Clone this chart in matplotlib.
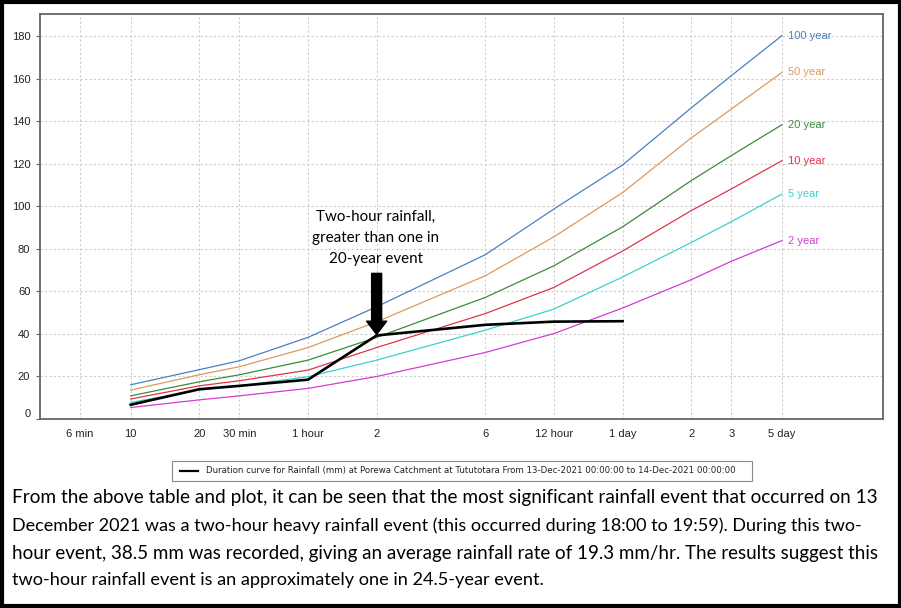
import matplotlib
matplotlib.use('Agg')
import matplotlib.pyplot as plt
from matplotlib.patches import Rectangle
from matplotlib.lines import Line2D
from matplotlib.ticker import NullLocator, FixedLocator, FixedFormatter
import matplotlib.transforms as mtransforms

W, H = 901, 608

# ---------------- data ----------------
durations = [10, 20, 30, 60, 120, 360, 720, 1440, 2880, 4320, 7200]  # minutes
depth_100 = [16.1, 23.2, 27.4, 38.4, 52.8, 77.3, 98.8, 119.5, 146.3, 161.5, 180.3]
depth_50 = [13.6, 20.8, 24.6, 33.6, 45.7, 67.4, 85.7, 106.5, 132.2, 145.8, 163.0]
depth_20 = [10.9, 17.5, 20.8, 27.7, 38.4, 57.2, 72.1, 90.4, 112.1, 123.9, 138.4]
depth_10 = [9.4, 15.6, 18.0, 23.0, 33.6, 49.6, 61.9, 79.0, 98.0, 108.2, 121.5]
depth_5 = [7.8, 13.6, 15.6, 19.9, 27.7, 41.8, 51.7, 66.8, 83.0, 92.8, 105.8]
depth_2 = [5.4, 9.0, 10.9, 14.4, 20.0, 31.3, 40.2, 52.2, 65.5, 74.2, 83.9]
series_labels = ['100 year', '50 year', '20 year', '10 year', '5 year', '2 year']
series_colors = ['#4a80c0', '#dc9a5c', '#3a8c3a', '#e0344c', '#3cd0d0', '#d43cd4']

event_durations = [10, 20, 30, 60, 120, 360, 720, 1440]
event_depth = [6.7, 14.0, 15.6, 18.5, 39.3, 44.3, 45.8, 46.0]

x_tick_pos = [6, 10, 20, 30, 60, 120, 360, 720, 1440, 2880, 4320, 7200]
x_tick_labels = ['6 min', '10', '20', '30 min', '1 hour', '2', '6', '12 hour',
                 '1 day', '2', '3', '5 day']
y_ticks = [0, 20, 40, 60, 80, 100, 120, 140, 160, 180]

legend_text = ('Duration curve for Rainfall (mm) at Porewa Catchment at Tututotara '
               'From 13-Dec-2021 00:00:00 to 14-Dec-2021 00:00:00')
annot_lines = ['Two-hour rainfall,', 'greater than one in', '20-year event']
para_lines = [
    'From the above table and plot, it can be seen that the most significant rainfall event that occurred on 13',
    'December 2021 was a two-hour heavy rainfall event (this occurred during 18:00 to 19:59). During this two-',
    'hour event, 38.5 mm was recorded, giving an average rainfall rate of 19.3 mm/hr. The results suggest this',
    'two-hour rainfall event is an approximately one in 24.5-year event.',
]


def fx(px):
    return px / W


def fy(py):
    return 1 - py / H


fig = plt.figure(figsize=(W / 100, H / 100), dpi=100)
fig.patch.set_facecolor('white')

ax = fig.add_axes([fx(40), fy(419), (883 - 40) / W, (419 - 14) / H])
ax.set_xscale('log')
ax.set_xlim(4.0, 20000)
ax.set_ylim(0, 190.5)

tick_family = ['Liberation Sans', 'DejaVu Sans']

ax.xaxis.set_major_locator(FixedLocator(x_tick_pos))
ax.xaxis.set_major_formatter(FixedFormatter(x_tick_labels))
ax.xaxis.set_minor_locator(NullLocator())
ax.set_yticks(y_ticks)
ax.set_yticklabels([str(v) for v in y_ticks])
for lab in ax.get_xticklabels() + ax.get_yticklabels():
    lab.set_fontfamily(tick_family)
    lab.set_fontsize(8)
    lab.set_color('#222222')
ax.tick_params(axis='x', length=0, pad=7)
ax.tick_params(axis='y', length=3, pad=4, color='#666666')

# shift the "0" label up a little, as in the source software
zero_lab = ax.get_yticklabels()[0]
zero_lab.set_transform(zero_lab.get_transform() +
                       mtransforms.ScaledTranslation(0, 6 / 100, fig.dpi_scale_trans))

ax.grid(True, which='major', color='#cccccc', linestyle=(0, (2, 2)), linewidth=0.8)
ax.set_axisbelow(True)
for s in ax.spines.values():
    s.set_color('#666666')
    s.set_linewidth(1.3)

all_series = [depth_100, depth_50, depth_20, depth_10, depth_5, depth_2]
for vals, lab, col in zip(all_series, series_labels, series_colors):
    ax.plot(durations, vals, color=col, lw=0.9)
    ax.annotate(lab, xy=(durations[-1], vals[-1]), xytext=(4.5, 0),
                textcoords='offset points', va='center', ha='left', color=col,
                fontsize=8, family=tick_family)

ax.plot(event_durations, event_depth, color='black', lw=1.9, zorder=5)

# arrow pointing to the two-hour point
ax.annotate('', xy=(120, 39.8), xytext=(120, 68.5),
            arrowprops=dict(arrowstyle='simple,head_length=9.5,head_width=14.5,tail_width=7.2',
                            mutation_scale=1, color='black', shrinkA=0, shrinkB=0),
            zorder=6)

fig.canvas.draw()
r = fig.canvas.get_renderer()


def fit_width(t, target):
    for _ in range(2):
        bb = t.get_window_extent(renderer=r)
        t.set_fontsize(t.get_fontsize() * target / bb.width)
    return t.get_fontsize()


# annotation text
annot_y = [216.7, 238.3, 259.3]
a0 = fig.text(fx(376), fy(annot_y[0]), annot_lines[0], ha='center', va='center',
              family=['Lato', 'DejaVu Sans'], fontsize=10, color='black')
fs = fit_width(a0, 118)
for txt, yy in zip(annot_lines[1:], annot_y[1:]):
    fig.text(fx(376), fy(yy), txt, ha='center', va='center',
             family=['Lato', 'DejaVu Sans'], fontsize=fs, color='black')

# legend box
fig.patches.append(Rectangle((fx(172), fy(481)), (752 - 172) / W, (481 - 461) / H,
                             transform=fig.transFigure, facecolor='white',
                             edgecolor='#8a8a8a', lw=0.8))
fig.lines.append(Line2D([fx(180), fx(198)], [fy(471), fy(471)], transform=fig.transFigure,
                        color='black', lw=1.6))
lt = fig.text(fx(206), fy(471), legend_text, ha='left', va='center',
              family=['DejaVu Sans'], fontsize=6, color='#222222')
fit_width(lt, 532)

# paragraph: each line fitted to the width it has in the reference
para_y = [498, 526, 553, 580]
para_w = [866, 854, 866, 529]
for txt, yy, ww in zip(para_lines, para_y, para_w):
    t = fig.text(fx(12), fy(yy), txt, ha='left', va='center',
                 family=['Lato', 'DejaVu Sans'], fontsize=11, color='black')
    fit_width(t, ww)

# outer black frame
fig.patches.append(Rectangle((fx(1.5), fy(605.5)), (899.5 - 1.5) / W, (605.5 - 1.5) / H,
                             transform=fig.transFigure, facecolor='none',
                             edgecolor='black', lw=3.0))

fig.savefig('out.png', dpi=100)
